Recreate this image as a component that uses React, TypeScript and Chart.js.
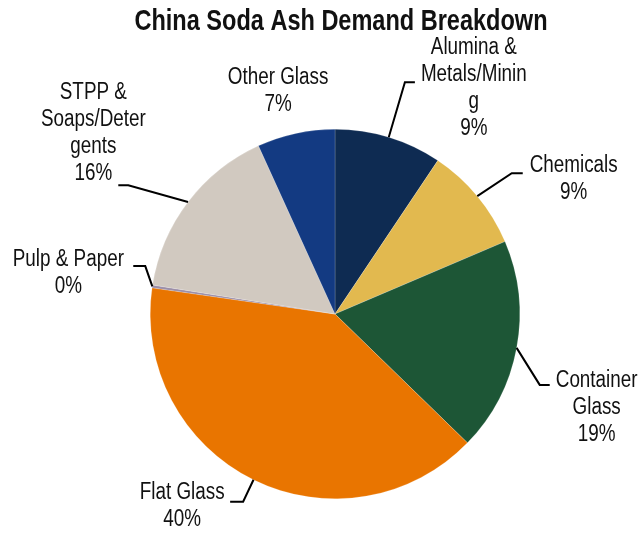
import React, { useEffect, useRef } from "react";
import { Chart, registerables } from "chart.js";

Chart.register(...registerables);

const categories = [
  "Alumina & Metals/Mining",
  "Chemicals",
  "Container Glass",
  "Flat Glass",
  "Pulp & Paper",
  "STPP & Soaps/Detergents",
  "Other Glass",
];
const values = [9.4, 9.2, 18.7, 40.0, 0.25, 15.7, 6.8];
const percentLabels = ["9%", "9%", "19%", "40%", "0%", "16%", "7%"];
const labelLines = [
  ["Alumina &", "Metals/Minin", "g"],
  ["Chemicals"],
  ["Container", "Glass"],
  ["Flat Glass"],
  ["Pulp & Paper"],
  ["STPP &", "Soaps/Deter", "gents"],
  ["Other Glass"],
];
const colors = ["#0E2B52", "#E2B94F", "#1D5636", "#E97500", "#9C8FA8", "#D1C9C0", "#133A82"];

const TITLE = "China Soda Ash Demand Breakdown";
const FONT = '"Liberation Sans", Arial, sans-serif';
const NARROW = 0.82;

// label layout relative to pie centre (px at reference radius 185)
// text: [dx of text centre, dy of first line centre]; leader: [elbow, end] or null
const labelLayout = [
  { text: [139, -267], leader: [[70, -232], [80, -232]] },
  { text: [239, -149], leader: [[177, -141], [188, -141]] },
  { text: [262, 67], leader: [[205, 71], [215, 71]] },
  { text: [-153, 179], leader: [[-92, 188], [-105, 188]] },
  { text: [-267, -54], leader: [[-190, -48], [-202, -48]] },
  { text: [-242, -222], leader: [[-207, -129], [-217, -129]] },
  { text: [-57, -237], leader: null },
];
const LINE_H = 27;

function narrowText(ctx: any, t: string, x: number, y: number) {
  ctx.save();
  ctx.translate(x, y);
  ctx.scale(NARROW, 1);
  ctx.fillText(t, 0, 0);
  ctx.restore();
}

const labelPlugin = {
  id: "pieLabels",
  afterDatasetsDraw(chart: any) {
    const ctx = chart.ctx;
    const meta = chart.getDatasetMeta(0);
    ctx.save();
    const a0 = meta.data[0];
    const cx = a0.x;
    const cy = a0.y;
    const R = a0.outerRadius;
    const s = R / 185;
    ctx.fillStyle = "#111111";
    ctx.textAlign = "center";
    ctx.textBaseline = "middle";
    ctx.font = `bold 28.7px ${FONT}`;
    narrowText(ctx, TITLE, cx + 6, cy - 292 * s);

    ctx.font = `23px ${FONT}`;
    meta.data.forEach((arc: any, i: number) => {
      const p = arc.getProps(["x", "y", "startAngle", "endAngle", "outerRadius"], true);
      const mid = (p.startAngle + p.endAngle) / 2;
      const lay = labelLayout[i];
      if (lay.leader) {
        ctx.strokeStyle = "#000000";
        ctx.lineWidth = 2;
        ctx.beginPath();
        ctx.moveTo(p.x + Math.cos(mid) * p.outerRadius, p.y + Math.sin(mid) * p.outerRadius);
        ctx.lineTo(cx + lay.leader[0][0] * s, cy + lay.leader[0][1] * s);
        ctx.lineTo(cx + lay.leader[1][0] * s, cy + lay.leader[1][1] * s);
        ctx.stroke();
      }
      const lines = [...labelLines[i], percentLabels[i]];
      ctx.fillStyle = "#111111";
      lines.forEach((t, k) => {
        narrowText(ctx, t, cx + lay.text[0] * s, cy + lay.text[1] * s + k * LINE_H);
      });
    });
    ctx.restore();
  },
};

export default function App() {
  const ref = useRef<HTMLCanvasElement | null>(null);
  useEffect(() => {
    document.body.style.margin = "0";
    const chart = new Chart(ref.current as HTMLCanvasElement, {
      type: "pie",
      data: {
        labels: categories,
        datasets: [
          {
            data: values,
            backgroundColor: colors,
            borderColor: "rgba(255,255,255,0.35)",
            borderWidth: 0.5,
          },
        ],
      },
      options: {
        responsive: false,
        animation: false,
        rotation: 0,
        layout: { padding: { top: 129, bottom: 37, left: 150, right: 124 } },
        plugins: {
          legend: { display: false },
          title: { display: false },
          tooltip: { enabled: false },
        },
      },
      plugins: [labelPlugin],
    });
    return () => chart.destroy();
  }, []);
  return (
    <div style={{ width: 644, height: 536 }}>
      <canvas ref={ref} width={644} height={536} style={{ display: "block" }} />
    </div>
  );
}
